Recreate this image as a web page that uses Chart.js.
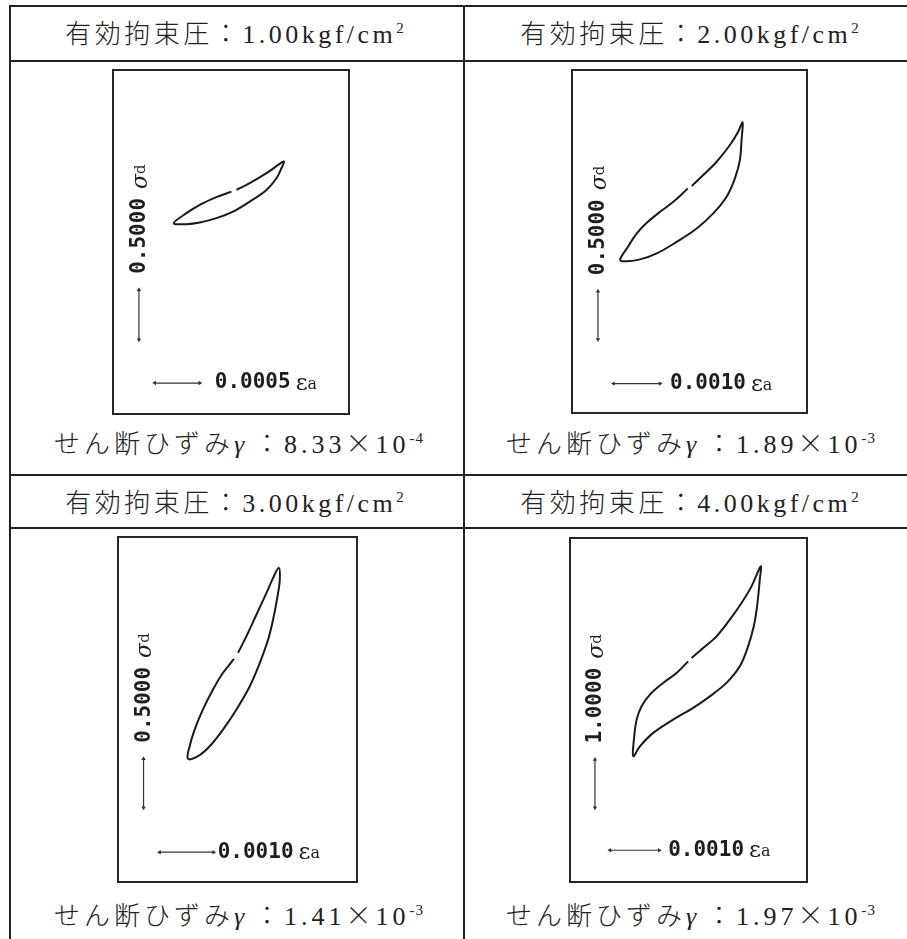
<!DOCTYPE html>
<html><head><meta charset="utf-8">
<script src="https://cdn.jsdelivr.net/npm/chart.js@4.4.1/dist/chart.umd.min.js"></script>
<style>
html,body{margin:0;padding:0;background:#fff;width:907px;height:939px;overflow:hidden;position:relative;}
.ln{position:absolute;background:#222;}
.txt{position:absolute;width:520px;text-align:center;white-space:nowrap;font-size:26px;line-height:30px;height:30px;color:#222;letter-spacing:3.5px;font-family:"Liberation Serif","Noto Sans CJK JP",serif;}
.ft{letter-spacing:4px;}
.jp{font-family:"Noto Sans CJK JP",sans-serif;font-weight:300;}
.gm{font-family:"Liberation Serif",serif;font-style:italic;display:inline-block;width:20px;text-align:left;}
sup{font-size:15px;line-height:0;vertical-align:0;position:relative;top:-10px;letter-spacing:1px;}
canvas{position:absolute;}
</style>
</head><body>
<div class="ln" style="left:9px;top:5px;width:898px;height:2px"></div>
<div class="ln" style="left:9px;top:5px;width:2px;height:934px"></div>
<div class="ln" style="left:462.5px;top:5px;width:2px;height:934px"></div>
<div class="ln" style="left:9px;top:59.5px;width:898px;height:2px"></div>
<div class="ln" style="left:9px;top:473.5px;width:898px;height:2px"></div>
<div class="ln" style="left:9px;top:527px;width:898px;height:2px"></div>
<script>
// ---- text content ----
const pressures = ['1.00', '2.00', '3.00', '4.00'];
const shearStrains = ['8.33', '1.89', '1.41', '1.97'];
const shearExps = ['-4', '-3', '-3', '-3'];
const stressLabels = ['0.5000', '0.5000', '0.5000', '1.0000'];
const strainLabels = ['0.0005', '0.0010', '0.0010', '0.0010'];

// ---- loops: axial strain εa, deviator stress σd (origin at loop centre) ----
const loopX1 = [0.000083, 0.000231, 0.000417, 0.000564, 0.000612, 0.000583, 0.000528, 0.000417, 0.000231, 0.000046, -0.000139, -0.000324, -0.000472, -0.000613, -0.000472, -0.000324, -0.000139, 0.000028];
const loopY1 = [0.025, 0.092, 0.192, 0.285, 0.308, 0.242, 0.142, 0.025, -0.092, -0.192, -0.258, -0.302, -0.318, -0.308, -0.208, -0.125, -0.048, 0.008];

const loopX2 = [0.000223, 0.000471, 0.000758, 0.001043, 0.001221, 0.001315, 0.001293, 0.001257, 0.00115, 0.000972, 0.000685, 0.00033, -0.000099, -0.000527, -0.000884, -0.001169, -0.001313, -0.001169, -0.000955, -0.000741, -0.000456, -0.000171, 0.000043, 0.000137];
const loopY2 = [0.054, 0.168, 0.305, 0.478, 0.615, 0.712, 0.529, 0.323, 0.133, -0.057, -0.229, -0.384, -0.522, -0.642, -0.704, -0.722, -0.711, -0.590, -0.435, -0.326, -0.212, -0.109, -0.016, 0.030];

const loopX3 = [0.000085, 0.000241, 0.000426, 0.000611, 0.000733, 0.000839, 0.000857, 0.000815, 0.000733, 0.000641, 0.000487, 0.000302, 0.000056, -0.000193, -0.000439, -0.000656, -0.000841, -0.000809, -0.000717, -0.000563, -0.000378, -0.000193, -0.000037, 0.000011];
const loopY3 = [0.107, 0.277, 0.498, 0.719, 0.872, 0.974, 0.855, 0.685, 0.447, 0.243, 0.005, -0.234, -0.471, -0.676, -0.846, -0.948, -0.974, -0.846, -0.676, -0.471, -0.267, -0.097, 0.011, 0.046];

const loopX4 = [-0.000112, 0.000124, 0.000396, 0.000665, 0.000903, 0.001106, 0.001294, 0.001274, 0.001219, 0.001152, 0.001037, 0.000868, 0.000598, 0.00026, -0.000079, -0.000485, -0.00089, -0.00116, -0.001296, -0.001282, -0.001227, -0.001126, -0.000957, -0.000688, -0.000416, -0.000181];
const loopY4 = [0.070, 0.277, 0.518, 0.863, 1.209, 1.553, 1.967, 1.692, 1.139, 0.725, 0.311, -0.104, -0.447, -0.725, -0.965, -1.207, -1.482, -1.76, -1.967, -1.621, -1.207, -0.932, -0.689, -0.447, -0.24, 0.0];

// ---- scale bars (data units) ----
const vBarX = [[-0.001, -0.001], [-0.00179, -0.00179], [-0.001661, -0.001661], [-0.002073, -0.002073]];
const vBarY = [[-1.475, -0.975], [-1.532, -1.032], [-1.474, -0.974], [-3.035, -2.035]];
const hBarX = [[-0.000824, -0.000324], [-0.001456, -0.000456], [-0.001365, -0.000365], [-0.001769, -0.000769]];
const hBarY = [[-1.908, -1.908], [-1.987, -1.987], [-1.928, -1.928], [-3.913, -3.913]];

// ---- axis extents of each plot frame ----
const xRanges = [[-0.001288, 0.001334], [-0.002347, 0.002698], [-0.002133, 0.002283], [-0.00258, 0.002233]];
const yRanges = [[-2.218, 1.225], [-2.291, 1.253], [-2.232, 1.289], [-4.571, 2.555]];

const loopXs = [loopX1, loopX2, loopX3, loopX4];
const loopYs = [loopY1, loopY2, loopY3, loopY4];

// ---- layout (pixels) ----
const frames = [
  {L: 113, T: 70, R: 349, B: 414},
  {L: 572, T: 70, R: 807, B: 413},
  {L: 118, T: 537, R: 357, B: 882},
  {L: 570, T: 538, R: 807, B: 882}
];
const headCenters = [235, 690, 235, 690];
const footCenters = [239, 691, 239, 691];
const headerY = [32, 32, 501, 501];
const footerY = [442, 442, 914, 914];
const hLabelGap = [15, 10, 4, 9];
const PAD = 8;

function addText(cx, cy, html, extra) {
  const d = document.createElement('div');
  d.className = 'txt' + (extra ? ' ' + extra : '');
  d.style.left = (cx - 260) + 'px';
  d.style.top = (cy - 15) + 'px';
  d.innerHTML = html;
  document.body.appendChild(d);
}
for (let i = 0; i < 4; i++) {
  addText(headCenters[i], headerY[i], '<span class="jp">有効拘束圧：</span>' + pressures[i] + 'kgf/cm<sup>2</sup>');
  addText(footCenters[i], footerY[i], '<span class="jp">せん断ひずみ</span><span class="gm">γ</span><span class="jp">：</span>' + shearStrains[i] + '<span class="jp">×</span>10<sup>' + shearExps[i] + '</sup>', 'ft');
}

const pts = (xs, ys) => xs.map((x, k) => ({x: x, y: ys[k]}));

const framePlugin = {
  id: 'frameBox',
  afterDraw(chart) {
    const a = chart.chartArea, ctx = chart.ctx;
    ctx.save();
    ctx.strokeStyle = '#262626';
    ctx.lineWidth = 2;
    ctx.strokeRect(a.left, a.top, a.right - a.left, a.bottom - a.top);
    ctx.restore();
  }
};

function labelPlugin(i) {
  return {
    id: 'barLabels' + i,
    afterDatasetsDraw(chart) {
      const ctx = chart.ctx, xs = chart.scales.x, ys = chart.scales.y;
      ctx.save();
      ctx.fillStyle = '#1e1e1e';
      const vx = xs.getPixelForValue(vBarX[i][1]);
      const vt = ys.getPixelForValue(vBarY[i][1]);
      ctx.translate(vx + 1, vt - 16);
      ctx.rotate(-Math.PI / 2);
      ctx.textAlign = 'left';
      ctx.textBaseline = 'middle';
      ctx.font = 'bold 21px "DejaVu Sans Mono", monospace';
      ctx.fillText(stressLabels[i], 0, 0);
      let w = ctx.measureText(stressLabels[i]).width;
      ctx.font = 'italic 22px "DejaVu Serif", serif';
      ctx.fillText('σ', w + 9, 1);
      const ws = ctx.measureText('σ').width;
      ctx.font = '15px "DejaVu Serif", serif';
      ctx.fillText('d', w + 9 + ws, 1);
      ctx.restore();
      ctx.save();
      ctx.fillStyle = '#1e1e1e';
      const hx = xs.getPixelForValue(hBarX[i][1]);
      const hy = ys.getPixelForValue(hBarY[i][0]);
      ctx.textAlign = 'left';
      ctx.textBaseline = 'middle';
      ctx.font = 'bold 21px "DejaVu Sans Mono", monospace';
      ctx.fillText(strainLabels[i], hx + hLabelGap[i], hy);
      w = ctx.measureText(strainLabels[i]).width;
      ctx.font = '23px "DejaVu Serif", serif';
      ctx.fillText('ε', hx + hLabelGap[i] + w + 5, hy + 1);
      const we = ctx.measureText('ε').width;
      ctx.font = '16px "DejaVu Serif", serif';
      ctx.fillText('a', hx + hLabelGap[i] + w + 5 + we, hy + 2);
      ctx.restore();
    }
  };
}

for (let i = 0; i < 4; i++) {
  const f = frames[i];
  const c = document.createElement('canvas');
  const w = f.R - f.L + 2 * PAD, h = f.B - f.T + 2 * PAD;
  c.width = w; c.height = h;
  c.style.left = (f.L - PAD) + 'px';
  c.style.top = (f.T - PAD) + 'px';
  c.style.width = w + 'px';
  c.style.height = h + 'px';
  document.body.appendChild(c);
  new Chart(c, {
    type: 'scatter',
    data: {
      datasets: [
        {data: pts(loopXs[i], loopYs[i]), showLine: true, borderColor: '#1a1a1a', borderWidth: 2, pointRadius: 0, tension: 0.35, fill: false},
        {data: pts(vBarX[i], vBarY[i]), showLine: true, borderColor: '#333', borderWidth: 1.2, pointStyle: 'triangle', pointRadius: 2.5, pointRotation: [180, 0], pointBackgroundColor: '#333', pointBorderWidth: 0},
        {data: pts(hBarX[i], hBarY[i]), showLine: true, borderColor: '#333', borderWidth: 1.2, pointStyle: 'triangle', pointRadius: 2.5, pointRotation: [-90, 90], pointBackgroundColor: '#333', pointBorderWidth: 0}
      ]
    },
    options: {
      responsive: false,
      animation: false,
      events: [],
      layout: {padding: PAD},
      plugins: {legend: {display: false}, tooltip: {enabled: false}},
      scales: {
        x: {type: 'linear', display: false, min: xRanges[i][0], max: xRanges[i][1]},
        y: {type: 'linear', display: false, min: yRanges[i][0], max: yRanges[i][1]}
      }
    },
    plugins: [framePlugin, labelPlugin(i)]
  });
}
</script>
</body></html>
